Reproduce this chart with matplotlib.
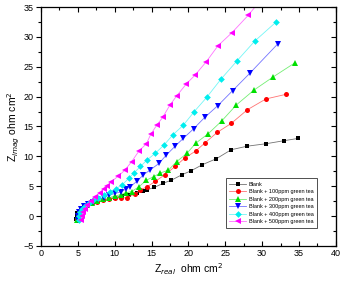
import numpy as np
import matplotlib
matplotlib.use('Agg')
import matplotlib.pyplot as plt
from matplotlib.ticker import MultipleLocator
from matplotlib.colors import to_rgb

plt.rcParams['font.family'] = ['Liberation Sans', 'DejaVu Sans']

# Nyquist data (Z_real, Z_imag in ohm cm^2)
blank_x = [4.8, 4.85, 4.95, 5.1, 5.4, 5.8, 6.3, 6.9, 7.6, 8.4, 9.2, 10.1, 11.0, 12.0, 13.0, 13.8, 14.4,
           15.4, 16.6, 17.7, 19.1, 20.4, 21.9, 23.8, 25.8, 28.0, 30.5, 32.9, 34.9]
blank_y = [-0.5, 0.0, 0.5, 0.9, 1.3, 1.6, 1.9, 2.1, 2.4, 2.6, 2.9, 3.1, 3.4, 3.6, 3.9, 4.2, 4.4,
           4.8, 5.5, 6.0, 6.9, 7.6, 8.6, 9.6, 11.1, 11.7, 12.1, 12.6, 13.0]

gt100_x = [4.9, 5.0, 5.15, 5.4, 5.8, 6.3, 6.9, 7.6, 8.4, 9.2, 10.0, 10.9, 11.7, 12.8, 13.5, 14.4,
           15.5, 16.8, 18.2, 19.5, 21.0, 22.3, 23.9, 25.8, 28.0, 30.5, 33.3]
gt100_y = [-0.6, 0.0, 0.6, 1.1, 1.5, 1.8, 2.1, 2.3, 2.6, 2.8, 3.0, 3.0, 3.1, 3.7, 4.4, 4.9,
           5.8, 6.9, 8.3, 9.7, 10.9, 12.3, 14.0, 15.5, 17.8, 19.6, 20.4]

gt200_x = [4.9, 5.0, 5.15, 5.4, 5.8, 6.3, 6.9, 7.6, 8.4, 9.2, 10.0, 10.8, 11.6, 12.3, 13.3, 14.3,
           15.3, 16.2, 17.3, 18.4, 19.8, 21.0, 22.7, 24.5, 26.5, 28.9, 31.5, 34.5]
gt200_y = [-0.6, 0.0, 0.6, 1.1, 1.5, 1.9, 2.2, 2.5, 2.8, 3.1, 3.3, 3.6, 3.9, 4.1, 4.9, 6.0,
           6.6, 7.2, 7.7, 9.1, 10.5, 12.2, 13.8, 15.9, 18.6, 21.1, 23.3, 25.7]

gt300_x = [5.0, 5.05, 5.2, 5.45, 5.85, 6.4, 7.0, 7.7, 8.5, 9.3, 10.1, 10.9, 11.5, 12.1, 13.0, 13.9,
           14.8, 16.0, 17.0, 18.2, 19.3, 20.7, 22.2, 24.0, 26.0, 28.4, 32.1]
gt300_y = [-0.6, 0.0, 0.6, 1.1, 1.6, 2.0, 2.4, 2.8, 3.1, 3.5, 3.8, 4.1, 4.5, 4.9, 5.8, 6.9,
           7.7, 8.8, 10.2, 11.7, 13.0, 14.6, 16.5, 18.5, 21.0, 24.0, 28.8]

gt400_x = [5.1, 5.15, 5.3, 5.55, 5.95, 6.5, 7.1, 7.8, 8.6, 9.4, 10.2, 11.0, 11.9, 12.6, 13.5, 14.4,
           15.5, 16.7, 17.9, 19.3, 20.8, 22.5, 24.4, 26.6, 29.0, 31.9]
gt400_y = [-0.7, 0.0, 0.6, 1.1, 1.6, 2.1, 2.6, 3.1, 3.6, 4.1, 4.6, 5.2, 6.3, 7.2, 8.3, 9.4,
           10.5, 11.9, 13.6, 15.2, 17.5, 19.9, 22.9, 26.0, 29.3, 32.5]

gt500_x = [5.5, 5.55, 5.7, 5.95, 6.3, 6.8, 7.4, 8.0, 8.5, 9.0, 9.5, 10.5, 11.4, 12.3, 13.3, 14.3,
           14.9, 15.7, 16.5, 17.5, 18.4, 19.7, 20.9, 22.4, 24.0, 25.9, 28.1, 29.9]
gt500_y = [-0.7, 0.0, 0.6, 1.2, 1.8, 2.5, 3.2, 3.9, 4.6, 5.0, 5.7, 6.7, 7.7, 9.1, 10.9, 12.1,
           13.7, 15.2, 16.5, 18.6, 20.1, 22.1, 23.6, 25.8, 28.5, 30.7, 33.6, 36.3]

labels = ['Blank', 'Blank + 100ppm green tea', 'Blank + 200ppm green tea',
          'Blank + 300ppm green tea', 'Blank + 400ppm green tea', 'Blank + 500ppm green tea']

series = [(blank_x, blank_y), (gt100_x, gt100_y), (gt200_x, gt200_y),
          (gt300_x, gt300_y), (gt400_x, gt400_y), (gt500_x, gt500_y)]
colors = ['#000000', '#ff0000', '#00e000', '#0000ff', '#00eeee', '#ff00ff']
markers = ['s', 'o', '^', 'v', 'D', '<']
msizes = [3.4, 3.6, 4.0, 4.0, 3.4, 4.0]


def lighten(c, f=0.45):
    r, g, b = to_rgb(c)
    return (r + (1 - r) * f, g + (1 - g) * f, b + (1 - b) * f)


fig = plt.figure(figsize=(3.41, 2.81), dpi=100)
ax = fig.add_axes([0.120, 0.125, 0.865, 0.850])

for (x, y), c, m, ms, lab in zip(series, colors, markers, msizes, labels):
    ax.plot(x, y, color=lighten(c), lw=0.6, marker=m, markersize=ms,
            markerfacecolor=c, markeredgecolor=c, markeredgewidth=0, label=lab)

ax.set_xlim(0, 40)
ax.set_ylim(-5, 35)
ax.xaxis.set_major_locator(MultipleLocator(5))
ax.xaxis.set_minor_locator(MultipleLocator(2.5))
ax.yaxis.set_major_locator(MultipleLocator(5))
ax.yaxis.set_minor_locator(MultipleLocator(2.5))

ax.tick_params(which='both', top=True, labelsize=6.5, width=0.8, pad=2)
ax.tick_params(axis='x', which='both', direction='in')
ax.tick_params(axis='y', which='both', direction='out', right=False)
ax.tick_params(which='major', length=3.5)
ax.tick_params(which='minor', length=2)
# right side ticks point inward
ax2 = ax.secondary_yaxis('right')
ax2.yaxis.set_major_locator(MultipleLocator(5))
ax2.yaxis.set_minor_locator(MultipleLocator(2.5))
ax2.tick_params(which='both', direction='in', labelright=False, width=0.8)
ax2.tick_params(which='major', length=3.5)
ax2.tick_params(which='minor', length=2)

for s in ax.spines.values():
    s.set_linewidth(0.9)

ax.set_xlabel('Z$_{real}$  ohm cm$^2$', fontsize=7.5, labelpad=3)
ax.set_ylabel('Z$_{imag}$ ohm cm$^2$', fontsize=7.5, labelpad=1)

leg = ax.legend(loc='lower right', bbox_to_anchor=(0.947, 0.063), fontsize=4.0,
                frameon=True, fancybox=False, edgecolor='black', handlelength=3,
                handletextpad=0.5, borderpad=0.7, labelspacing=0.45)
leg.get_frame().set_linewidth(0.6)

fig.savefig('out.png', dpi=100)
